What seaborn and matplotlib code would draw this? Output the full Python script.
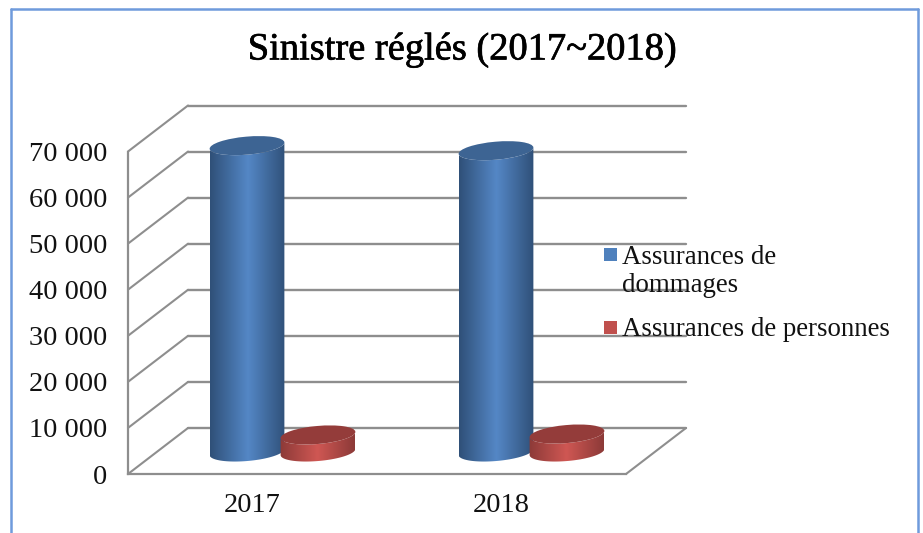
import numpy as np
import pandas as pd
import matplotlib
matplotlib.use("Agg")
import matplotlib.pyplot as plt
import matplotlib.patheffects as pe
import seaborn as sns
from matplotlib.legend_handler import HandlerPatch
from matplotlib.patches import Ellipse, Patch, Polygon, Rectangle
from matplotlib.transforms import Affine2D, IdentityTransform
from matplotlib.colors import LinearSegmentedColormap

years = ["2017", "2018"]
series = ["Assurances de\ndommages", "Assurances de personnes"]
dommages = [66500, 65400]
personnes = [3700, 3900]
yticks = [0, 10000, 20000, 30000, 40000, 50000, 60000, 70000]
ylabels = ["0", "10 000", "20 000", "30 000", "40 000", "50 000", "60 000", "70 000"]
title = "Sinistre réglés (2017~2018)"

W, H = 923, 533
GRID = "#8e8e8e"
BORDER = "#6f9bdc"
FONT = "Liberation Serif"

sns.set_theme(style="white", rc={"font.family": FONT})
fig = plt.figure(figsize=(W / 100, H / 100), dpi=100, facecolor="white")

# Figure frame (open at the bottom)
for xs, ys in [((10.5, 10.5), (533, 9)), ((10.5, 917.5), (9, 9)), ((917.5, 917.5), (9, 533))]:
    fig.add_artist(plt.Line2D(np.array(xs) / W, 1 - np.array(ys) / H, color=BORDER, lw=1.8))

# Axes = front plane of the 3D box
L, R, T, B = 128, 626, 151.5, 474
ax = fig.add_axes([L / W, 1 - B / H, (R - L) / W, (B - T) / H])
df = pd.DataFrame({
    "Année": years * 2,
    "Valeur": dommages + personnes,
    "Série": [series[0]] * 2 + [series[1]] * 2,
})
sns.barplot(data=df, x="Année", y="Valeur", hue="Série", hue_order=series,
            palette=["#4f81bd", "#c0504d"], width=0.57, ax=ax, legend=False, zorder=3)
ax.set_xlim(-0.5, 1.5)
ax.set_ylim(0, 70000)
ax.set_xlabel("")
ax.set_ylabel("")
ax.set_yticks(yticks, ylabels)
ax.tick_params(axis="y", length=0, pad=15, labelsize=20.5, labelcolor="#111111")
ax.tick_params(axis="x", length=0, pad=13.5, labelsize=20.5, labelcolor="#111111")
ax.patch.set_visible(False)
for s in ("top", "right"):
    ax.spines[s].set_visible(False)
for s in ("left", "bottom"):
    ax.spines[s].set_color(GRID)
    ax.spines[s].set_linewidth(1.6)

fig.canvas.draw()

DX, DY = 60, 46  # box depth in pixels
back = ax.transData + Affine2D().translate(DX, DY)
mid = ax.transData + Affine2D().translate(DX / 2, DY / 2 - 1)

# Back wall and side wall grid lines, floor outline
for v in yticks:
    ax.plot([-0.5, 1.5], [v, v], transform=back, color=GRID, lw=1.7, clip_on=False, zorder=1)
    x0, y0 = ax.transData.transform((-0.5, v))
    ax.add_line(plt.Line2D([x0, x0 + DX], [y0, y0 + DY], transform=IdentityTransform(),
                           color=GRID, lw=1.5, zorder=1, clip_on=False))
x1, y1 = ax.transData.transform((1.5, 0))
ax.add_line(plt.Line2D([x1, x1 + DX], [y1, y1 + DY], transform=IdentityTransform(),
                       color=GRID, lw=1.5, zorder=1, clip_on=False))

# Cylinders built from the bars seaborn drew
RX, RY, TILT = 37.5, 9, np.radians(5)


def ellipse_pts(cx, cy, a):
    return (cx + RX * np.cos(a) * np.cos(TILT) - RY * np.sin(a) * np.sin(TILT),
            cy + RX * np.cos(a) * np.sin(TILT) + RY * np.sin(a) * np.cos(TILT))


def shade(dark, light):
    return LinearSegmentedColormap.from_list("c", [dark, light, dark])


styles = {
    0: dict(cmap=shade("#2f5078", "#5487c6"), cap="#3d6493"),
    1: dict(cmap=shade("#8c3a38", "#cf5753"), cap="#943c3a"),
}
gradient = np.linspace(0, 1, 256).reshape(1, -1)
bars = [b for b in ax.patches if isinstance(b, Rectangle) and b.get_height() > 0]
for i, bar in enumerate(bars):
    style = styles[0 if i < 2 else 1]
    bar.set_visible(False)
    xc = bar.get_x() + bar.get_width() / 2
    cx, cy0 = mid.transform((xc, 0))
    _, cy1 = mid.transform((xc, bar.get_height()))
    a = np.linspace(np.pi, 2 * np.pi, 50)
    bx, by = ellipse_pts(cx, cy0, a)
    tx, ty = ellipse_pts(cx, cy1, a[::-1])
    poly = Polygon(np.c_[np.r_[bx, tx], np.r_[by, ty]],
                   transform=IdentityTransform(), fc="none", ec="none", zorder=2)
    ax.add_patch(poly)
    z = 3.5 if i >= 2 else 3
    im = ax.imshow(gradient, cmap=style["cmap"], aspect="auto",
                   extent=(cx - RX, cx + RX, cy0 - RY - 6, cy1 + RY + 6),
                   transform=IdentityTransform(), zorder=z)
    im.set_clip_box(fig.bbox)
    im.set_clip_path(poly)
    ax.add_patch(Ellipse((cx, cy1), 2 * RX, 2 * RY, angle=np.degrees(TILT),
                         transform=IdentityTransform(), fc=style["cap"], ec="none",
                         zorder=z + 0.1, clip_on=False))
ax.set_xlim(-0.5, 1.5)
ax.set_ylim(0, 70000)
ax.grid(False)

fig.text(462.5 / W, 1 - 50 / H, title, ha="center", va="center", fontsize=27.7, color="black",
         path_effects=[pe.withStroke(linewidth=0.5, foreground="black")])


class SquareHandler(HandlerPatch):
    """Square legend key; the key of a wrapped label sits on its first line."""

    def __init__(self, lift):
        super().__init__()
        self.lift = lift

    def create_artists(self, legend, orig_handle, xdescent, ydescent, width, height, fontsize, trans):
        side = 13
        p = Rectangle((0, self.lift), side * 0.72, side * 0.72, fc=orig_handle.get_facecolor(),
                      ec="none", transform=trans)
        return [p]


handles = [Patch(fc="#4f81bd"), Patch(fc="#c0504d")]
leg = fig.legend(handles, series, loc="upper left", bbox_to_anchor=(604 / W, 1 - 245 / H),
                 frameon=False, fontsize=19.4, handlelength=0.48, handleheight=0.48,
                 handletextpad=0.19, labelspacing=0.71, borderpad=0, borderaxespad=0,
                 labelcolor="#111111",
                 handler_map={handles[0]: SquareHandler(14), handles[1]: SquareHandler(1.4)})
for t in leg.get_texts():
    t.set_linespacing(1.15)
leg.set_zorder(10)

fig.savefig("out.png", dpi=100)
